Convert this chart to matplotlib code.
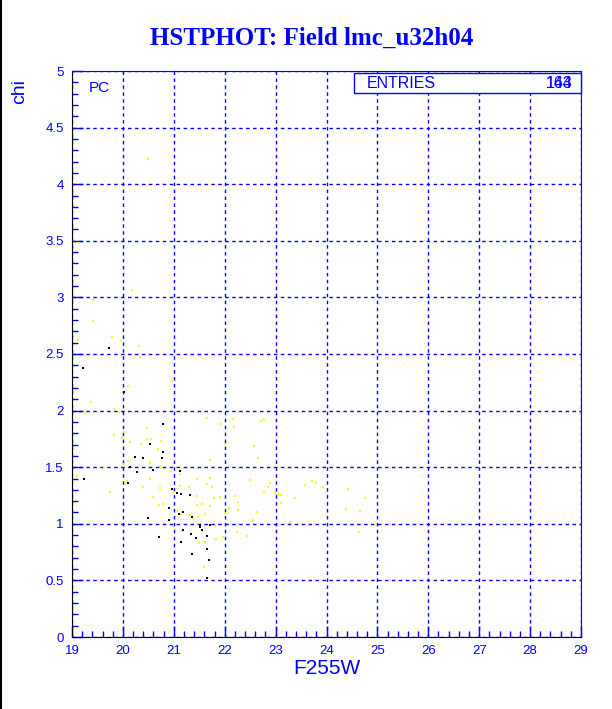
import matplotlib
matplotlib.use('Agg')
import matplotlib.pyplot as plt
from matplotlib.ticker import MultipleLocator
from matplotlib.patches import Rectangle
from matplotlib.lines import Line2D

# yellow points (all stars)
yel_x = [23.57, 23.72, 23.79, 23.93, 24.42, 24.75, 24.38, 24.66, 24.63, 24.95,
         21.65, 21.92, 22.16, 22.18, 22.71, 22.77, 22.00, 22.58, 21.72, 22.65,
         21.45, 21.71, 21.65, 21.75, 22.50, 22.89, 22.85, 22.77, 22.99, 23.05,
         23.11, 23.11, 23.38, 21.45, 21.79, 21.91, 22.20, 22.27, 21.45, 21.55,
         21.72, 22.08, 22.26, 22.63, 21.61, 21.48, 21.38, 22.00, 22.55, 23.28,
         21.80, 22.24, 22.43, 21.96, 21.49, 21.61, 21.83,
         20.59, 20.70, 20.79, 21.00, 21.06, 21.15, 21.32, 21.02, 21.17, 21.59,
         19.92, 20.47, 20.02, 19.83, 19.99, 20.47, 20.55, 20.13, 20.36, 20.74,
         20.68, 20.11, 20.53, 20.02, 20.73, 19.63, 20.94, 21.12, 20.53, 20.09,
         20.05, 20.39, 20.73, 21.12, 21.29, 19.75,
         19.12, 19.78, 19.96, 20.32, 20.34, 20.96, 20.10, 19.37, 19.83, 19.25,
         19.10, 19.13, 19.01, 20.18, 19.41, 19.41, 20.49]
yel_y = [1.345, 1.378, 1.363, 1.328, 1.305, 1.225, 1.133, 1.116, 0.928, 0.987,
         1.935, 1.879, 1.926, 1.858, 1.911, 1.917, 1.705, 1.685, 1.564, 1.584,
         1.396, 1.405, 1.352, 1.328, 1.384, 1.363, 1.328, 1.281, 1.272, 1.260,
         1.257, 1.186, 1.225, 1.246, 1.225, 1.234, 1.243, 1.193, 1.166, 1.175,
         1.155, 1.140, 1.125, 1.104, 1.089, 1.060, 1.040, 1.098, 1.034, 1.016,
         0.980, 0.925, 0.892, 0.886, 0.833, 0.839, 0.863,
         1.237, 1.166, 1.175, 1.278, 1.116, 1.087, 1.080, 0.957, 0.934, 0.621,
         1.981, 1.846, 1.811, 1.787, 1.755, 1.749, 1.746, 1.723, 1.708, 1.731,
         1.664, 1.557, 1.534, 1.525, 1.508, 1.493, 1.466, 1.437, 1.398, 1.375,
         1.363, 1.325, 1.319, 1.334, 1.328, 1.284,
         2.624, 2.650, 2.617, 2.571, 2.476, 2.264, 2.217, 2.079, 2.014, 1.979,
         1.425, 3.483, 3.207, 3.068, 2.977, 2.789, 4.220]

# black points (PC chip)
blk_x = [20.49, 20.90, 20.91, 21.07, 21.15, 21.31, 21.10, 21.19, 21.36, 21.52,
         21.51, 21.71, 20.71, 21.18, 21.33, 21.55, 21.44, 21.65, 21.15, 21.65,
         21.35, 21.69, 21.65,
         20.78, 20.53, 20.79, 20.39, 20.76, 20.24, 20.14, 20.60, 20.27, 21.12,
         20.10, 20.97, 19.73, 19.22, 20.02, 19.24]
blk_y = [1.051, 1.142, 1.034, 1.269, 1.260, 1.254, 1.087, 1.104, 1.060, 0.992,
         0.974, 0.992, 0.886, 0.945, 0.910, 0.945, 0.877, 0.892, 0.842, 0.775,
         0.736, 0.683, 0.524,
         1.882, 1.705, 1.634, 1.581, 1.584, 1.590, 1.502, 1.478, 1.455, 1.466,
         1.363, 1.307, 2.556, 2.376, 2.164, 1.396]

title = 'HSTPHOT: Field lmc_u32h04'
blue = '#0000ff'

fig = plt.figure(figsize=(6.12, 7.09), dpi=100)
ax = fig.add_axes([72 / 612, 1 - 637 / 709, 509 / 612, 566 / 709])

ax.plot(yel_x, yel_y, ls='none', marker='s', ms=1.6, mew=0, color='#ffff00')
ax.plot(blk_x, blk_y, ls='none', marker='s', ms=1.6, mew=0, color='black')

ax.set_xlim(19, 29)
ax.set_ylim(0, 5)
ax.xaxis.set_major_locator(MultipleLocator(1))
ax.xaxis.set_minor_locator(MultipleLocator(0.2))
ax.yaxis.set_minor_locator(MultipleLocator(0.1))
ax.set_yticks([0, 0.5, 1, 1.5, 2, 2.5, 3, 3.5, 4, 4.5, 5])
ax.set_yticklabels(['0', '0.5', '1', '1.5', '2', '2.5', '3', '3.5', '4', '4.5', '5'])
ax.tick_params(which='both', direction='in', colors=blue, labelcolor=blue,
               labelsize=9.5, top=False, right=False, width=1)
ax.tick_params(which='major', length=8, pad=6)
ax.tick_params(which='minor', length=4)
for lab in ax.get_xticklabels() + ax.get_yticklabels():
    lab.set_fontfamily('Liberation Sans')

ax.grid(True, which='major', color=blue, ls=(0, (2.5, 2.5)), lw=1)
ax.set_axisbelow(True)
ax.spines['bottom'].set_color('black')
ax.spines['left'].set_color('black')
ax.spines['top'].set_color(blue)
ax.spines['right'].set_color(blue)

fig.text(312 / 612, 1 - 38 / 709, title, ha='center', va='center', color=blue,
         fontsize=18, fontweight='bold', family='Liberation Serif')
fig.text(327 / 612, 1 - 669 / 709, 'F255W', ha='center', va='center',
         color=blue, fontsize=15, family='Liberation Sans')
fig.text(20 / 612, 1 - 92 / 709, 'chi', ha='center', va='center',
         color=blue, fontsize=14, family='Liberation Sans', rotation=90)
fig.text(99 / 612, 1 - 88 / 709, 'PC', ha='center', va='center',
         color=blue, fontsize=11, family='Liberation Sans')

# stats box
fig.patches.append(Rectangle((354 / 612, 1 - 93 / 709), 227 / 612, 20 / 709,
                             transform=fig.transFigure, fill=True, fc='white',
                             ec=blue, lw=1, zorder=5))
fig.text(367 / 612, 1 - 83 / 709, 'ENTRIES', ha='left', va='center',
         color=blue, fontsize=11.5, family='Liberation Sans', zorder=6)
for n in ['143', '164']:
    fig.text(559 / 612, 1 - 83 / 709, n, ha='center', va='center',
             color=blue, fontsize=11.5, family='Liberation Sans', zorder=6)

fig.lines.append(Line2D([0.001, 0.001], [0, 1], transform=fig.transFigure,
                        color='black', lw=1.5))

fig.savefig('out.png', dpi=100)
